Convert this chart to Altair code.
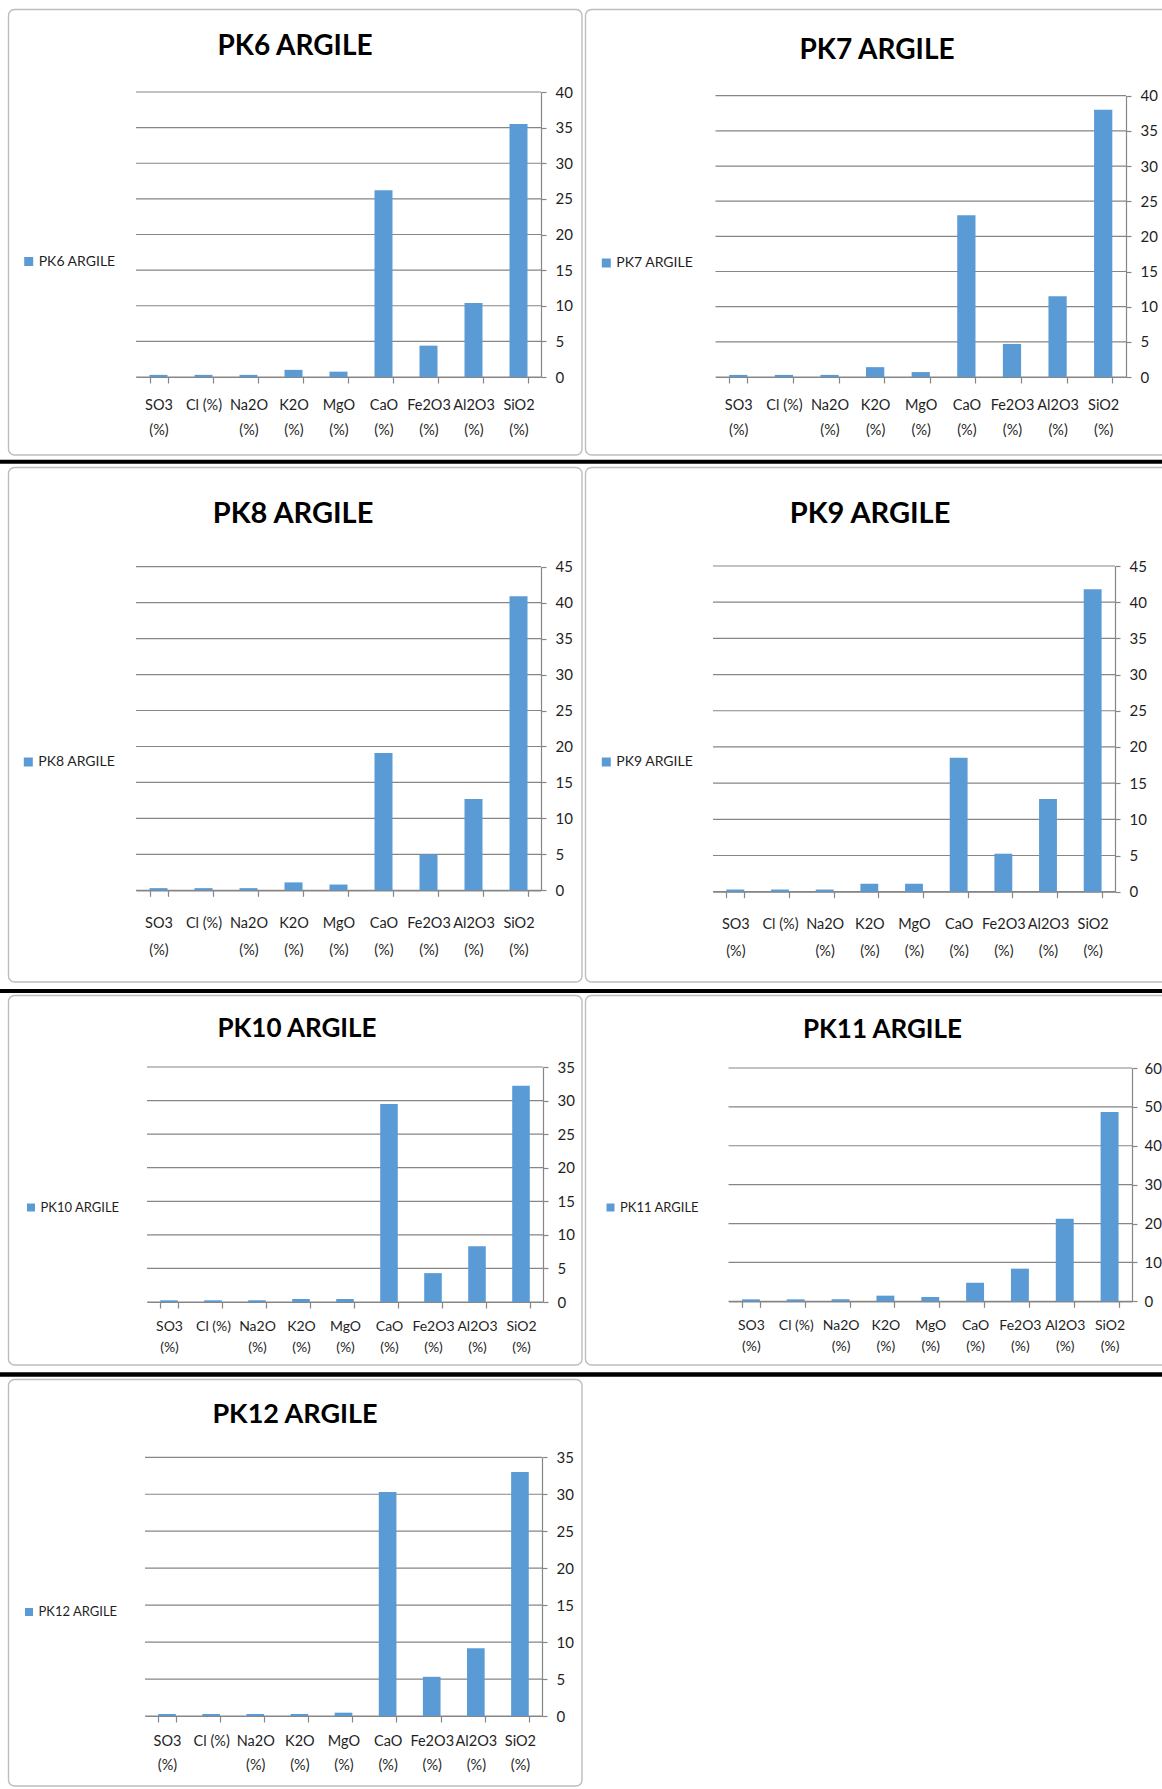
import altair as alt
import pandas as pd

# Oxide categories on the x axis (shown as two-line labels)
OXIDES = ["SO3 (%)", "Cl (%)", "Na2O (%)", "K2O (%)", "MgO (%)",
          "CaO (%)", "Fe2O3 (%)", "Al2O3 (%)", "SiO2 (%)"]

SAMPLES = ["PK6 ARGILE", "PK7 ARGILE", "PK8 ARGILE", "PK9 ARGILE",
           "PK10 ARGILE", "PK11 ARGILE", "PK12 ARGILE"]

# Oxide contents (%) of each clay sample, in OXIDES order
PK6 = [0.3, 0.3, 0.3, 1.0, 0.75, 26.2, 4.4, 10.4, 35.5]
PK7 = [0.3, 0.3, 0.3, 1.4, 0.7, 23.0, 4.7, 11.5, 38.0]
PK8 = [0.3, 0.3, 0.3, 1.1, 0.8, 19.1, 5.0, 12.7, 40.9]
PK9 = [0.3, 0.3, 0.3, 1.1, 1.1, 18.5, 5.25, 12.8, 41.8]
PK10 = [0.25, 0.25, 0.25, 0.45, 0.45, 29.5, 4.3, 8.3, 32.2]
PK11 = [0.5, 0.5, 0.5, 1.45, 1.1, 4.8, 8.4, 21.2, 48.7]
PK12 = [0.27, 0.27, 0.27, 0.27, 0.45, 30.3, 5.3, 9.15, 33.0]
VALUES = [PK6, PK7, PK8, PK9, PK10, PK11, PK12]

# Right-hand value axis of each chart: maximum and tick step
Y_MAX = [40, 40, 45, 45, 35, 60, 35]
Y_STEP = [5, 5, 5, 5, 5, 10, 5]

BLUE = "#5B9BD5"
GRID = "#868686"
FRAME = "#BDBDBD"
TXT = "#1F1F1F"
FONT = "Lato, Liberation Sans, sans-serif"

# Page geometry of each chart box (pixels): grid cell, plot area, frame,
# title (centre x, baseline, size), legend (left x, centre y, font, symbol),
# x labels (font, padding, line height), y-label padding, black rule under row.
LAYOUT = [
    dict(cell=(0, 0, 584, 465), plot=(136, 92, 541, 377), frame=(8.5, 9.5, 582, 455),
         title=(295, 55, 28), legend=(21.7, 261.5, 14, 81), xlab=(14.5, 15.5, 25), ypad=9,
         sep=(459.7, 463.7)),
    dict(cell=(584, 0, 1162, 465), plot=(715.5, 95.7, 1126, 377), frame=(585.5, 9.5, 1180, 455),
         title=(877, 59, 28), legend=(599.3, 263, 14, 81), xlab=(14.5, 15.5, 25), ypad=9,
         sep=(459.7, 463.7)),
    dict(cell=(0, 465, 584, 994), plot=(136, 566.7, 541, 890.3), frame=(8.5, 467.5, 582, 982),
         title=(293, 523, 29), legend=(21.3, 762, 14, 81), xlab=(14.5, 20.5, 27), ypad=9,
         sep=(989, 993)),
    dict(cell=(584, 465, 1162, 994), plot=(713, 566, 1115, 891.7), frame=(585.5, 467.5, 1180, 982),
         title=(870, 523, 29), legend=(599.3, 762, 14, 81), xlab=(14.5, 19.5, 27), ypad=9,
         sep=(989, 993)),
    dict(cell=(0, 994, 584, 1378), plot=(147, 1067, 543, 1302), frame=(8.5, 995.5, 582, 1365),
         title=(297, 1037, 26), legend=(24.5, 1207.5, 13, 64), xlab=(14, 11, 21), ypad=9,
         sep=(1372.3, 1376.8)),
    dict(cell=(584, 994, 1162, 1378), plot=(728.5, 1068, 1132, 1301.3), frame=(585.5, 995.5, 1180, 1365),
         title=(882.5, 1038, 26), legend=(604, 1207.5, 13, 64), xlab=(14, 11, 21), ypad=7,
         sep=(1372.3, 1376.8)),
    dict(cell=(0, 1378, 584, 1789), plot=(145, 1457.3, 542, 1716), frame=(8.5, 1379.5, 582, 1786),
         title=(295, 1423, 27), legend=(22.5, 1612, 13, 64), xlab=(14.5, 12.5, 24), ypad=9,
         sep=None),
]


def panel(name, values, ymax, step, g):
    cl, ct, cr, cb = g["cell"]
    cw, ch = cr - cl, cb - ct
    pl, pt, pr, pb = g["plot"]

    def X(v):
        return v - cl

    def Y(v):
        return v - ct

    one = pd.DataFrame({"k": [0]})
    layers = []

    # cell background that fixes the box's place on the page
    layers.append(alt.Chart(one).mark_rect(opacity=0).encode(
        x=alt.value(0), x2=alt.value(cw), y=alt.value(0), y2=alt.value(ch)))

    # rounded chart-area frame (clipped to the cell)
    fl, ft, fr, fb = g["frame"]
    layers.append(alt.Chart(one).mark_rect(
        filled=False, stroke=FRAME, strokeWidth=1.4, cornerRadius=6, clip=True).encode(
        x=alt.value(X(fl)), x2=alt.value(X(fr)), y=alt.value(Y(ft)), y2=alt.value(Y(fb))))

    # black table rule under the row
    if g["sep"] is not None:
        s0, s1 = g["sep"]
        layers.append(alt.Chart(one).mark_rect(color="black").encode(
            x=alt.value(0), x2=alt.value(cw), y=alt.value(Y(s0)), y2=alt.value(Y(s1))))

    xscale = alt.Scale(domain=OXIDES, range=[X(pl), X(pr)], paddingInner=0.6, paddingOuter=0.3)
    yscale = alt.Scale(domain=[0, ymax], range=[Y(pb), Y(pt)], nice=False)
    ticks = list(range(0, ymax + 1, step))

    xfs, xpad, xlh = g["xlab"]
    xaxis = alt.Axis(title=None, orient="bottom", offset=Y(pb) - ch, labelAngle=0,
                     labelExpr="isString(datum.value) ? (datum.value == 'Cl (%)' ? datum.value : split(datum.value, ' ')) : ''",
                     labelFont=FONT, labelFontSize=xfs, labelColor=TXT,
                     labelPadding=xpad, labelLineHeight=xlh, labelBaseline="top",
                     labelOverlap=False, tickBand="extent", tickSize=6,
                     tickColor=GRID, tickWidth=1.2, domainColor=GRID, domainWidth=1.2)
    yaxis = alt.Axis(title=None, orient="right", offset=X(pr) - cw, values=ticks, grid=False,
                     domainColor=GRID, domainWidth=1.2, tickColor=GRID, tickWidth=1.2, tickSize=5,
                     labelFont=FONT, labelFontSize=15, labelColor=TXT,
                     labelPadding=g["ypad"], labelFlush=False, labelOverlap=False)

    # horizontal gridlines at every value tick
    grid = alt.Chart(pd.DataFrame({"value": ticks})).mark_rule(
        color=GRID, strokeWidth=1.2).encode(
        y=alt.Y("value:Q", scale=yscale, axis=yaxis),
        x=alt.value(X(pl)), x2=alt.value(X(pr)))
    layers.append(grid)

    lx, lyc, lfs, lsym = g["legend"]
    df = pd.DataFrame({"oxide": OXIDES, "value": values, "sample": name})
    bars = alt.Chart(df).mark_bar().encode(
        x=alt.X("oxide:N", sort=OXIDES, scale=xscale, axis=xaxis),
        y=alt.Y("value:Q", scale=yscale, axis=yaxis),
        color=alt.Color("sample:N",
                        scale=alt.Scale(domain=[name], range=[BLUE]),
                        legend=alt.Legend(orient="none", title=None,
                                          legendX=X(lx), legendY=Y(lyc) - lfs / 2,
                                          padding=0, symbolType="square", symbolSize=lsym,
                                          symbolStrokeWidth=0, labelOffset=3,
                                          labelFont=FONT, labelFontSize=lfs, labelColor=TXT)),
    )
    layers.append(bars)

    tx, tb, tfs = g["title"]
    layers.append(alt.Chart(one).mark_text(
        text=name, font=FONT, fontSize=tfs, fontWeight="bold", color="black",
        align="center", baseline="alphabetic").encode(
        x=alt.value(X(tx)), y=alt.value(Y(tb))))

    return alt.layer(*layers).properties(width=cw, height=ch)


panels = [panel(SAMPLES[i], VALUES[i], Y_MAX[i], Y_STEP[i], LAYOUT[i]) for i in range(7)]


def row(*charts):
    return (alt.hconcat(*charts, spacing=0)
            .resolve_scale(color="independent")
            .resolve_legend(color="independent"))


chart = (alt.vconcat(row(panels[0], panels[1]), row(panels[2], panels[3]),
                     row(panels[4], panels[5]), panels[6], spacing=0)
         .resolve_scale(color="independent")
         .resolve_legend(color="independent")
         .properties(padding=0, background="white")
         .configure_view(stroke=None))

chart.save("out.html", embed_options={"renderer": "svg", "actions": False})
